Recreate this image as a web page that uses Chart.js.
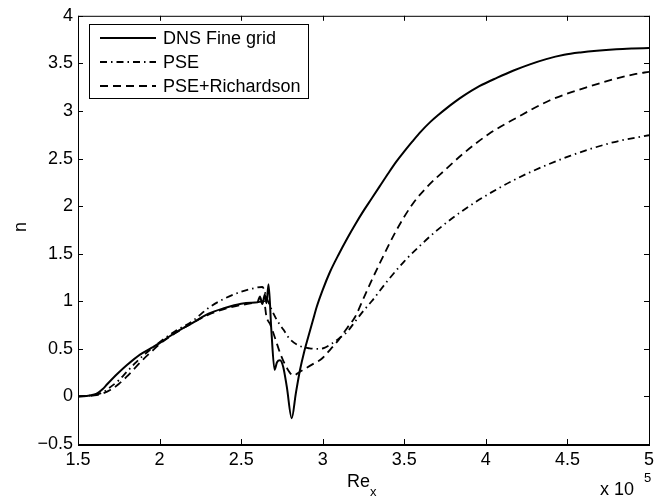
<!DOCTYPE html>
<html>
<head>
<meta charset="utf-8">
<script src="https://cdn.jsdelivr.net/npm/chart.js@4.4.1/dist/chart.umd.min.js"></script>
<style>
  html, body { margin: 0; padding: 0; background: #fff; }
  #wrap { width: 663px; height: 498px; }
</style>
</head>
<body>
<div id="wrap"><canvas id="nChart" width="663" height="498"></canvas></div>
<script>
// ---- data (Re_x in units of 1e5, n factor) ----
const xTicks = [1.5, 2, 2.5, 3, 3.5, 4, 4.5, 5]
const yTicks = [-0.5, 0, 0.5, 1, 1.5, 2, 2.5, 3, 3.5, 4]

const dnsX = [1.5, 1.55, 1.6, 1.62, 1.65, 1.68, 1.74, 1.8, 1.88, 1.95, 2.0, 2.06, 2.125, 2.2, 2.3, 2.4, 2.5, 2.56, 2.6,
  2.615, 2.63, 2.645, 2.655, 2.668, 2.685, 2.705, 2.72, 2.738, 2.758, 2.78, 2.81, 2.835, 2.861, 2.885, 2.912,
  2.94, 2.963, 3.0, 3.045, 3.1, 3.15, 3.2, 3.25, 3.3, 3.35, 3.4, 3.45, 3.5, 3.55, 3.6, 3.66, 3.71, 3.76, 3.81,
  3.86, 3.96, 4.07, 4.17, 4.27, 4.37, 4.48, 4.58, 4.68, 4.8, 4.9, 5.0]
const dnsN = [0, 0.005, 0.02, 0.035, 0.075, 0.13, 0.235, 0.33, 0.44, 0.51, 0.56, 0.63, 0.70, 0.77, 0.87, 0.93, 0.975, 0.985, 0.99,
  1.05, 0.97, 1.07, 0.98, 1.18, 0.7, 0.28, 0.36, 0.38, 0.31, 0.1, -0.23, 0.03, 0.28, 0.46, 0.63,
  0.8, 0.94, 1.12, 1.31, 1.50, 1.66, 1.81, 1.95, 2.08, 2.21, 2.34, 2.465, 2.575, 2.68, 2.78, 2.885, 2.96, 3.03, 3.095,
  3.155, 3.26, 3.35, 3.425, 3.49, 3.545, 3.59, 3.615, 3.633, 3.648, 3.656, 3.662]

const pseX = [1.5, 1.6, 1.65, 1.7, 1.75, 1.8, 1.85, 1.9, 1.95, 2.0, 2.1, 2.2, 2.3, 2.4, 2.5, 2.56, 2.63,
  2.66, 2.69, 2.72, 2.76, 2.8, 2.86, 2.92, 2.97, 3.01, 3.06, 3.1, 3.15, 3.2, 3.25, 3.3, 3.4, 3.5, 3.6, 3.7,
  3.86, 4.07, 4.27, 4.52, 4.78, 5.0]
const pseN = [0, 0.015, 0.04, 0.1, 0.17, 0.26, 0.35, 0.43, 0.5, 0.57, 0.69, 0.79, 0.93, 1.03, 1.1, 1.13, 1.15,
  1.02, 0.9, 0.8, 0.7, 0.6, 0.53, 0.505, 0.5, 0.51, 0.56, 0.61, 0.68, 0.79, 0.9, 1.0, 1.22, 1.42, 1.59, 1.745,
  1.955, 2.18, 2.355, 2.53, 2.67, 2.745]

const richX = [1.5, 1.6, 1.65, 1.7, 1.75, 1.8, 1.85, 1.9, 1.95, 2.0, 2.1, 2.2, 2.3, 2.4, 2.5, 2.6, 2.64,
  2.655, 2.68, 2.72, 2.74, 2.78, 2.82, 2.86, 2.9, 2.95, 2.99, 3.05, 3.1, 3.15, 3.2, 3.25, 3.3, 3.35, 3.45,
  3.55, 3.65, 3.75, 3.86, 4.02, 4.19, 4.39, 4.62, 4.92, 5.0]
const richN = [0, 0.01, 0.03, 0.07, 0.13, 0.21, 0.3, 0.39, 0.47, 0.55, 0.67, 0.77, 0.86, 0.92, 0.96, 0.99, 1.0,
  0.84, 0.75, 0.55, 0.45, 0.3, 0.22, 0.26, 0.3, 0.35, 0.39, 0.5, 0.6, 0.72, 0.84, 1.03, 1.22, 1.4, 1.74,
  2.02, 2.22, 2.38, 2.55, 2.76, 2.93, 3.11, 3.25, 3.39, 3.41]

const seriesLabels = ['DNS Fine grid', 'PSE', 'PSE+Richardson']

const FONT = "'Liberation Sans', Arial, Helvetica, sans-serif"
const pts = (xs, ys) => xs.map((x, i) => ({ x, y: ys[i] }))
const fmt = v => (v < 0 ? '\u2212' + Math.abs(v) : String(v))

// MATLAB style box, inward ticks, legend and axis titles
const matlabLook = {
  id: 'matlabLook',
  afterDraw(chart) {
    const ctx = chart.ctx
    const { left, right, top, bottom } = chart.chartArea
    const xs = chart.scales.x, ys = chart.scales.y
    ctx.save()
    ctx.strokeStyle = '#000'
    ctx.lineWidth = 1
    ctx.strokeRect(left + 0.5, top + 0.5, right - left, bottom - top)
    // bottom axis is a bit heavier in the original
    ctx.fillStyle = '#000'
    ctx.fillRect(left, bottom, right - left + 1, 2)
    ctx.beginPath()
    xTicks.forEach(v => {
      const px = Math.round(xs.getPixelForValue(v)) + 0.5
      ctx.moveTo(px, bottom); ctx.lineTo(px, bottom - 5)
      ctx.moveTo(px, top); ctx.lineTo(px, top + 5)
    })
    yTicks.forEach(v => {
      const py = Math.round(ys.getPixelForValue(v)) + 0.5
      ctx.moveTo(left, py); ctx.lineTo(left + 5, py)
      ctx.moveTo(right, py); ctx.lineTo(right - 5, py)
    })
    ctx.stroke()

    // legend
    const lx = 89, ly = 24, lw = 219, lh = 74
    ctx.fillStyle = '#fff'
    ctx.fillRect(lx, ly, lw, lh)
    ctx.strokeRect(lx + 0.5, ly + 0.5, lw, lh)
    ctx.font = '18px ' + FONT
    ctx.textBaseline = 'middle'
    ctx.textAlign = 'left'
    chart.data.datasets.forEach((ds, i) => {
      const yy = 38 + i * 24
      ctx.beginPath()
      ctx.lineWidth = ds.borderWidth
      ctx.setLineDash(ds.borderDash || [])
      ctx.moveTo(100, yy); ctx.lineTo(156, yy)
      ctx.stroke()
      ctx.setLineDash([])
      ctx.fillStyle = '#000'
      ctx.fillText(ds.label, 163, yy + 1)
    })

    // axis titles
    ctx.fillStyle = '#000'
    ctx.font = '18px ' + FONT
    ctx.textAlign = 'left'
    ctx.textBaseline = 'alphabetic'
    ctx.fillText('Re', 347, 487)
    ctx.font = '13px ' + FONT
    ctx.fillText('x', 370, 496)
    ctx.font = '18px ' + FONT
    ctx.fillText('x 10', 600, 495)
    ctx.font = '13px ' + FONT
    ctx.fillText('5', 644, 482)
    ctx.translate(26, 227)
    ctx.rotate(-Math.PI / 2)
    ctx.font = '18px ' + FONT
    ctx.textAlign = 'center'
    ctx.fillText('n', 0, 0)
    ctx.restore()
  }
}

new Chart(document.getElementById('nChart'), {
  type: 'line',
  data: {
    datasets: [
      { label: seriesLabels[0], data: pts(dnsX, dnsN), borderColor: '#000', borderWidth: 2, pointRadius: 0, cubicInterpolationMode: 'monotone' },
      { label: seriesLabels[1], data: pts(pseX, pseN), borderColor: '#000', borderWidth: 1.8, borderDash: [7, 4, 1.5, 4], pointRadius: 0, cubicInterpolationMode: 'monotone' },
      { label: seriesLabels[2], data: pts(richX, richN), borderColor: '#000', borderWidth: 1.8, borderDash: [8, 5], pointRadius: 0, cubicInterpolationMode: 'monotone' }
    ]
  },
  options: {
    responsive: false,
    animation: false,
    layout: { padding: { top: 15, right: 14, left: 0, bottom: 0 } },
    plugins: { legend: { display: false }, tooltip: { enabled: false } },
    scales: {
      x: {
        type: 'linear', min: 1.5, max: 5,
        afterBuildTicks: s => { s.ticks = xTicks.map(v => ({ value: v })) },
        afterFit: s => { s.height = 54 },
        grid: { display: false, drawTicks: false },
        border: { display: false },
        ticks: { color: '#000', padding: 5, font: { family: FONT, size: 18 }, callback: fmt, maxRotation: 0 }
      },
      y: {
        type: 'linear', min: -0.5, max: 4,
        afterBuildTicks: s => { s.ticks = yTicks.map(v => ({ value: v })) },
        afterFit: s => { s.width = 78 },
        grid: { display: false, drawTicks: false },
        border: { display: false },
        ticks: { color: '#000', padding: 5, font: { family: FONT, size: 18 }, callback: fmt }
      }
    }
  },
  plugins: [matlabLook]
})
</script>
</body>
</html>
